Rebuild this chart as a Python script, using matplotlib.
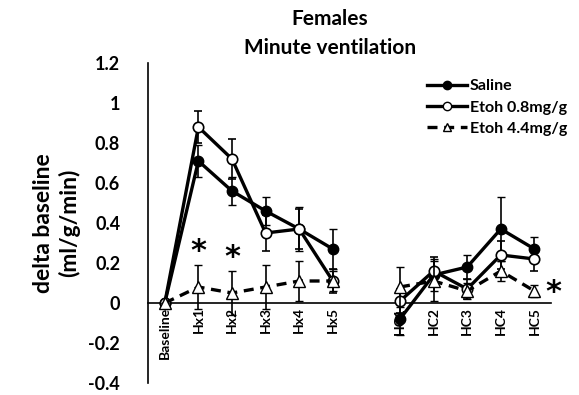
import numpy as np
import matplotlib.pyplot as plt
from matplotlib.lines import Line2D

plt.rcParams['font.family'] = ['Lato', 'DejaVu Sans']
plt.rcParams['font.weight'] = 'bold'

labels = ["Baseline", "Hx1", "Hx2", "Hx3", "Hx4", "Hx5", "", "HC1", "HC2", "HC3", "HC4", "HC5"]

saline = [0, 0.71, 0.56, 0.46, 0.37, 0.27, np.nan, -0.08, 0.14, 0.18, 0.37, 0.27]
saline_err = [0, 0.08, 0.07, 0.07, 0.11, 0.10, np.nan, 0.08, 0.08, 0.06, 0.16, 0.06]

etoh08 = [0, 0.88, 0.72, 0.35, 0.37, 0.11, np.nan, 0.01, 0.16, 0.07, 0.24, 0.22]
etoh08_err = [0, 0.08, 0.10, 0.09, 0.10, 0.06, np.nan, 0.06, 0.07, 0.05, 0.07, 0.06]

etoh44 = [0, 0.08, 0.05, 0.08, 0.11, 0.11, np.nan, 0.08, 0.11, 0.06, 0.16, 0.06]
etoh44_err = [0, 0.11, 0.11, 0.11, 0.10, 0.05, np.nan, 0.10, 0.10, 0.04, 0.05, 0.03]

x = np.arange(len(labels))

fig = plt.figure(figsize=(5.79, 3.95), dpi=100)
ax = fig.add_axes([0.2556, 0.0304, 0.6964, 0.8101])

lw = 2.4
dash = (0, (3, 2))
ax.errorbar(x, saline, yerr=saline_err, color='black', lw=lw, marker='o', ms=7.5,
            mfc='black', mec='black', ecolor='black', elinewidth=1.2, capsize=3, zorder=3)
ax.errorbar(x, etoh08, yerr=etoh08_err, color='black', lw=lw, marker='o', ms=7.5,
            mfc='white', mec='black', mew=1.2, ecolor='black', elinewidth=1.2, capsize=3, zorder=4)
ax.errorbar(x, etoh44, yerr=etoh44_err, color='black', lw=lw, ls=dash, marker='^', ms=8,
            mfc='white', mec='black', mew=1.0, ecolor='black', elinewidth=1.2, capsize=3, zorder=5)

# significance marks
for xi, yi in [(1, 0.255), (2, 0.225), (11.55, 0.05)]:
    ax.text(xi, yi, "*", ha='center', va='center', fontsize=22, fontweight='bold',
            family='DejaVu Sans')

ax.set_xlim(-0.5, 11.5)
ax.set_ylim(-0.4, 1.2)
ax.set_yticks(np.arange(-0.4, 1.21, 0.2))
ax.set_yticklabels(["-0.4", "-0.2", "0", "0.2", "0.4", "0.6", "0.8", "1", "1.2"],
                   fontsize=13, fontweight='bold')
ax.set_xticks(x)
ax.set_xticklabels(labels, fontsize=10.5, fontweight='bold')
ax.tick_params(axis='both', length=0)
ax.tick_params(axis='y', pad=20)
ax.tick_params(axis='x', pad=3, labelrotation=90)

ax.spines['top'].set_visible(False)
ax.spines['right'].set_visible(False)
ax.spines['bottom'].set_position(('data', 0))
ax.spines['left'].set_linewidth(1.2)
ax.spines['bottom'].set_linewidth(1.2)

ax.set_ylabel("delta baseline\n(ml/g/min)", fontsize=16.5, fontweight='bold', labelpad=6)
fig.text(0.57, 0.915, "Females\nMinute ventilation", ha='center', va='center',
         fontsize=15, fontweight='bold', linespacing=1.6)

handles = [
    Line2D([], [], color='black', lw=lw, marker='o', ms=6, mfc='black', mec='black'),
    Line2D([], [], color='black', lw=lw, marker='o', ms=6, mfc='white', mec='black'),
    Line2D([], [], color='black', lw=lw, ls=dash, marker='^', ms=6, mfc='white', mec='black'),
]
ax.legend(handles, ["Saline", "Etoh 0.8mg/g", "Etoh 4.4mg/g"],
          loc='upper right', bbox_to_anchor=(1.04, 0.95), frameon=False,
          borderaxespad=0, borderpad=0,
          prop={'size': 11.5, 'weight': 'bold'}, handlelength=2.5,
          handletextpad=0.2, labelspacing=0.45)

fig.savefig("out.png", dpi=100)
